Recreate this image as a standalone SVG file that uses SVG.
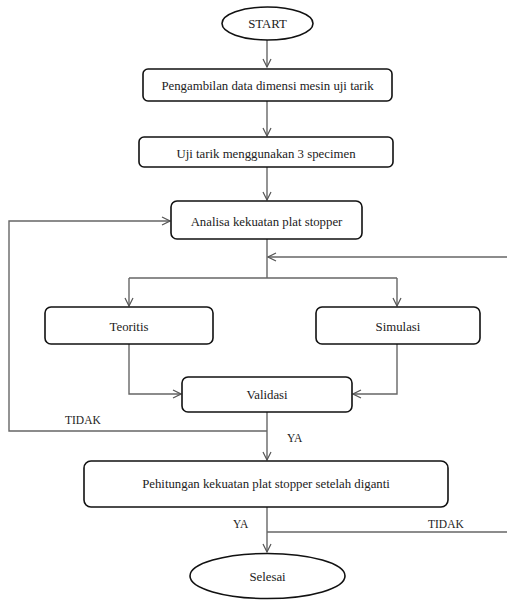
<svg xmlns="http://www.w3.org/2000/svg" width="507" height="600" viewBox="0 0 507 600">
<defs>
<marker id="arr" markerWidth="10" markerHeight="10" refX="9" refY="5" orient="auto" markerUnits="userSpaceOnUse">
<path d="M1,1 L9,5 L1,9" fill="none" stroke="#555" stroke-width="1.2"/>
</marker>
<style>
.box{fill:#fff;stroke:#111;stroke-width:1.6}
.t{font-family:'Liberation Serif','DejaVu Serif',serif;font-size:12.8px;fill:#222;text-anchor:middle;dominant-baseline:central}
.l{font-family:'Liberation Serif','DejaVu Serif',serif;font-size:11.5px;fill:#222}
.c{fill:none;stroke:#666;stroke-width:1.4}
</style>
</defs>
<rect width="507" height="600" fill="#fff"/>
<g id="connectors">
<path class="c" d="M267,40 V67" marker-end="url(#arr)"/>
<path class="c" d="M267,101 V136" marker-end="url(#arr)"/>
<path class="c" d="M267,167 V200" marker-end="url(#arr)"/>
<path class="c" d="M267,239 V278"/>
<path class="c" d="M507,257 H268" marker-end="url(#arr)"/>
<path class="c" d="M129,278 H397"/>
<path class="c" d="M129,278 V306" marker-end="url(#arr)"/>
<path class="c" d="M397,278 V306" marker-end="url(#arr)"/>
<path class="c" d="M129,344 V394 H181" marker-end="url(#arr)"/>
<path class="c" d="M397,344 V394 H353" marker-end="url(#arr)"/>
<path class="c" d="M267,412 V460" marker-end="url(#arr)"/>
<path class="c" d="M267,431 H9 V221 H170" marker-end="url(#arr)"/>
<path class="c" d="M267,507 V552" marker-end="url(#arr)"/>
<path class="c" d="M267,532 H507"/>
<text class="l" x="65" y="424">TIDAK</text>
<text class="l" x="287" y="442">YA</text>
<text class="l" x="233" y="528">YA</text>
<text class="l" x="428" y="528">TIDAK</text>
</g>
<g id="start">
<ellipse class="box" cx="267.5" cy="23.5" rx="45.5" ry="16.5"/>
<text class="t" x="267.5" y="24">START</text>
</g>
<g id="pengambilan">
<rect class="box" x="143" y="69" width="249" height="32" rx="5"/>
<text class="t" x="267.5" y="86">Pengambilan data dimensi mesin uji tarik</text>
</g>
<g id="uji">
<rect class="box" x="139" y="137" width="254" height="30" rx="5"/>
<text class="t" x="266" y="154">Uji tarik menggunakan  3 specimen</text>
</g>
<g id="analisa">
<rect class="box" x="171" y="201" width="191" height="38" rx="6"/>
<text class="t" x="266.5" y="222">Analisa kekuatan  plat stopper</text>
</g>
<g id="teoritis">
<rect class="box" x="45" y="307" width="168" height="37" rx="6"/>
<text class="t" x="129" y="327">Teoritis</text>
</g>
<g id="simulasi">
<rect class="box" x="316" y="307" width="164" height="37" rx="6"/>
<text class="t" x="398" y="327">Simulasi</text>
</g>
<g id="validasi">
<rect class="box" x="182" y="377" width="170" height="35" rx="6"/>
<text class="t" x="267" y="395">Validasi</text>
</g>
<g id="pehitungan">
<rect class="box" x="84" y="461" width="364" height="46" rx="7"/>
<text class="t" x="266" y="484">Pehitungan kekuatan plat stopper  setelah  diganti</text>
</g>
<g id="selesai">
<ellipse class="box" cx="267.5" cy="576" rx="77.5" ry="22.5"/>
<text class="t" x="267.5" y="577">Selesai</text>
</g>
</svg>
